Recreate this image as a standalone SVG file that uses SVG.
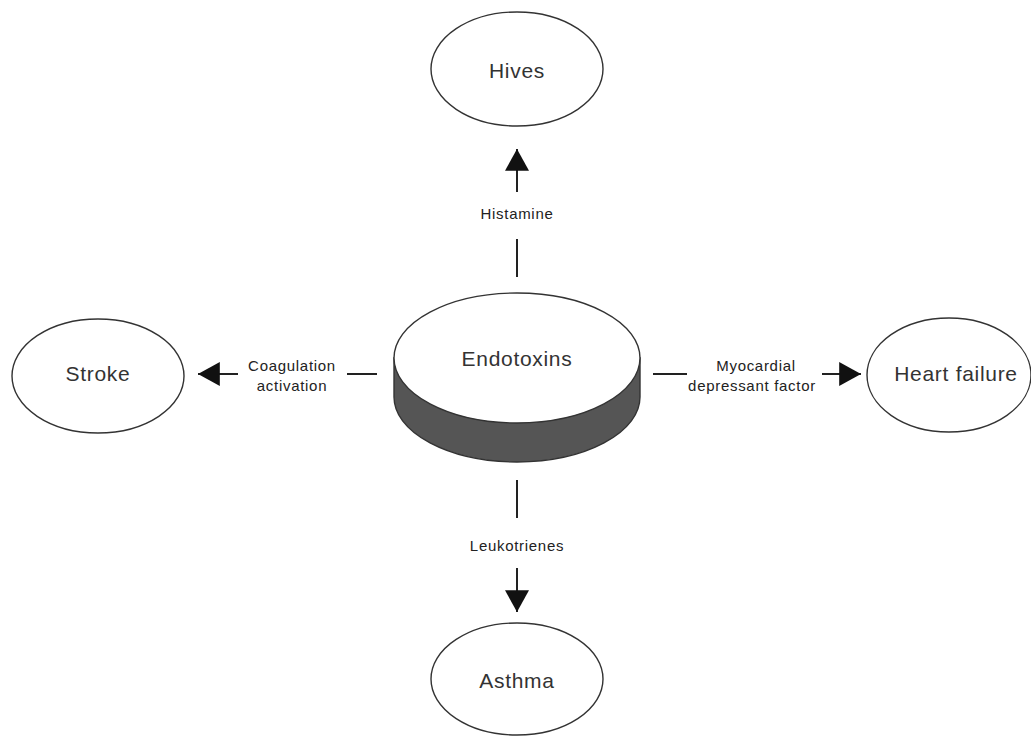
<svg xmlns="http://www.w3.org/2000/svg" width="1031" height="736" viewBox="0 0 1031 736">
<style>
.node{fill:#fff;stroke:#333;stroke-width:1.4}
.big{font-family:"Liberation Sans",Arial,sans-serif;font-size:21px;fill:#333;text-anchor:middle;dominant-baseline:central;letter-spacing:0.7px}
.lbl{font-family:"Liberation Sans",Arial,sans-serif;font-size:15px;fill:#222;text-anchor:middle;dominant-baseline:central;letter-spacing:0.7px}
.conn line{stroke:#222;stroke-width:2}
</style>
<defs>
<marker id="ah" markerUnits="userSpaceOnUse" markerWidth="22" markerHeight="24" viewBox="0 0 20 22" refX="20" refY="11" orient="auto">
<path d="M0,0 L20,11 L0,22 Z" fill="#111"/>
</marker>
</defs>
<g id="connectors" class="conn">
<line x1="517" y1="277" x2="517" y2="239"/>
<line x1="517" y1="192" x2="517" y2="149" marker-end="url(#ah)"/>
<line x1="377" y1="374" x2="347" y2="374"/>
<line x1="238" y1="374" x2="198" y2="374" marker-end="url(#ah)"/>
<line x1="653" y1="374" x2="687" y2="374"/>
<line x1="822" y1="374" x2="861" y2="374" marker-end="url(#ah)"/>
<line x1="517" y1="480" x2="517" y2="518"/>
<line x1="517" y1="568" x2="517" y2="612" marker-end="url(#ah)"/>
<text class="lbl" x="517" y="213">Histamine</text>
<text class="lbl" x="292" y="365">Coagulation</text>
<text class="lbl" x="292" y="385">activation</text>
<text class="lbl" x="756" y="365">Myocardial</text>
<text class="lbl" x="752" y="385">depressant factor</text>
<text class="lbl" x="517" y="545">Leukotrienes</text>
</g>
<g id="endotoxins">
<path d="M394,358 L394,397 A123,65 0 0 0 640,397 L640,358 Z" fill="#555" stroke="#333" stroke-width="1.4"/>
<ellipse class="node" cx="517" cy="358" rx="123" ry="65"/>
<text class="big" x="517" y="358">Endotoxins</text>
</g>
<g id="hives">
<ellipse class="node" cx="517" cy="69" rx="86" ry="57"/>
<text class="big" x="517" y="70">Hives</text>
</g>
<g id="stroke">
<ellipse class="node" cx="98" cy="376" rx="86" ry="57"/>
<text class="big" x="98" y="373">Stroke</text>
</g>
<g id="heart-failure">
<ellipse class="node" cx="949" cy="375" rx="82" ry="57"/>
<text class="big" x="956" y="373">Heart failure</text>
</g>
<g id="asthma">
<ellipse class="node" cx="517" cy="679" rx="86" ry="56"/>
<text class="big" x="517" y="680">Asthma</text>
</g>
</svg>
